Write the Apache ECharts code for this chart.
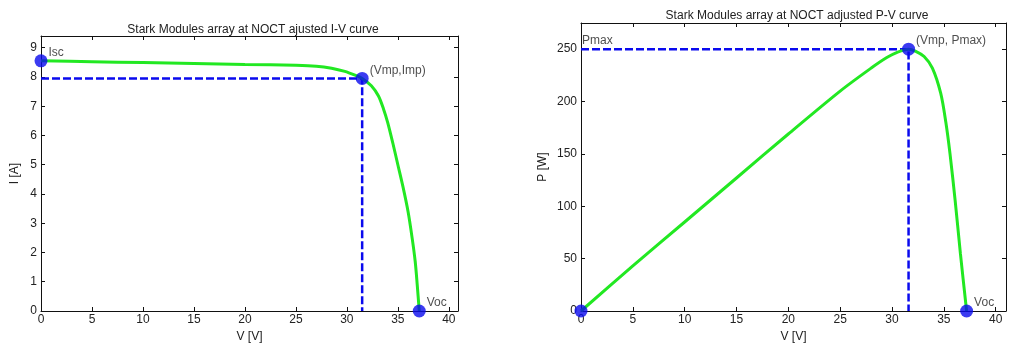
<!DOCTYPE html>
<html>
<head>
<meta charset="utf-8">
<script src="https://cdn.jsdelivr.net/npm/echarts@6/dist/echarts.min.js"></script>
<style>
  html, body { margin: 0; padding: 0; background: #fff; }
  #container { width: 1013px; height: 350px; }
</style>
</head>
<body>
<div id="container"></div>
<script>
// I-V curve
const ivVolt = [0, 5, 10, 15, 20, 25, 27, 28.5, 29.8, 30.8, 31.5, 32.4, 33.1, 33.6, 34.0, 34.5, 35.0, 35.5, 36.0, 36.4, 36.7, 36.9, 37.1]
const ivCurr = [8.55, 8.52, 8.49, 8.46, 8.43, 8.40, 8.37, 8.30, 8.19, 8.06, 7.95, 7.70, 7.35, 6.90, 6.45, 5.75, 5.0, 4.25, 3.4, 2.5, 1.7, 0.9, 0]

// P-V curve
const pvVolt = [0, 5, 10, 15, 20, 25, 28, 29.5, 30.5, 31.6, 32.3, 33.1, 33.9, 34.7, 35.2, 35.6, 36.1, 36.6, 37.2]
const pvPow = [0, 43, 85, 127, 169, 210, 232, 242, 247, 250, 248, 243, 232, 208, 180, 150, 105, 55, 0]

// key points
const ivPoints = [[0, 8.55], [31.5, 7.95], [37.1, 0]]
const ivPointNames = ['Isc', '(Vmp,Imp)', 'Voc']
const pvPoints = [[0, 0], [31.6, 250], [37.2, 0]]
const pvPointNames = ['', '(Vmp, Pmax)', 'Voc']

const titles = ['Stark Modules array at NOCT ajusted I-V curve', 'Stark Modules array at NOCT adjusted P-V curve']

const green = '#22e822'
const blue = '#0a0aee'
const font = 'Liberation Sans'
const textColor = '#222'
const fs = 12

const dom = document.getElementById('container')
const myChart = echarts.init(dom)

function zip(a, b) {
    return a.map((v, i) => [v, b[i]])
}

function mainX(gridIndex, max) {
    return {
        type: 'value', gridIndex: gridIndex, position: 'bottom',
        min: 0, max: max, interval: 5,
        name: 'V [V]', nameLocation: 'middle', nameGap: 13,
        nameTextStyle: { color: textColor, fontFamily: font, fontSize: fs },
        axisLine: { show: true, onZero: false, lineStyle: { color: '#111', width: 1 } },
        axisTick: { show: true, inside: true, length: 4, lineStyle: { color: '#111' } },
        axisLabel: { color: textColor, fontFamily: font, fontSize: fs, margin: 3, showMaxLabel: false },
        splitLine: { show: false }
    }
}
function boxX(gridIndex, max) {
    return {
        type: 'value', gridIndex: gridIndex, position: 'top',
        min: 0, max: max, interval: 5,
        axisLine: { show: true, onZero: false, lineStyle: { color: '#111', width: 1 } },
        axisTick: { show: true, inside: true, length: 4, lineStyle: { color: '#111' } },
        axisLabel: { show: false },
        splitLine: { show: false }
    }
}
function mainY(gridIndex, max, interval, name, gap) {
    return {
        type: 'value', gridIndex: gridIndex, position: 'left',
        min: 0, max: max, interval: interval,
        name: name, nameLocation: 'middle', nameGap: gap,
        nameTextStyle: { color: textColor, fontFamily: font, fontSize: fs },
        axisLine: { show: true, onZero: false, lineStyle: { color: '#111', width: 1 } },
        axisTick: { show: true, inside: true, length: 4, lineStyle: { color: '#111' } },
        axisLabel: { color: textColor, fontFamily: font, fontSize: fs, margin: 4, showMaxLabel: false },
        splitLine: { show: false }
    }
}
function boxY(gridIndex, max, interval) {
    return {
        type: 'value', gridIndex: gridIndex, position: 'right',
        min: 0, max: max, interval: interval,
        axisLine: { show: true, onZero: false, lineStyle: { color: '#111', width: 1 } },
        axisTick: { show: true, inside: true, length: 4, lineStyle: { color: '#111' } },
        axisLabel: { show: false },
        splitLine: { show: false }
    }
}

function pointSeries(xi, yi, pts, names) {
    return {
        type: 'scatter', xAxisIndex: xi, yAxisIndex: yi,
        symbolSize: 13, z: 5,
        itemStyle: { color: blue },
        data: pts.map((p, i) => ({ value: p, name: names[i] })),
        label: {
            show: true, position: 'right', distance: 1,
            formatter: (p) => p.name,
            color: textColor, fontFamily: font, fontSize: fs,
            offset: [0, -8]
        },
        silent: true
    }
}

const option = {
    backgroundColor: '#fff',
    animation: false,
    title: [
        { text: titles[0], left: 248, top: 19, textAlign: 'center',
          textStyle: { color: textColor, fontFamily: font, fontSize: fs, fontWeight: 'normal' } },
        { text: titles[1], left: 792, top: 5, textAlign: 'center',
          textStyle: { color: textColor, fontFamily: font, fontSize: fs, fontWeight: 'normal' } }
    ],
    grid: [
        { left: 41, top: 36, width: 417, height: 275 },
        { left: 581, top: 23, width: 425, height: 288 }
    ],
    xAxis: [mainX(0, 40.9), boxX(0, 40.9), mainX(1, 41), boxX(1, 41)],
    yAxis: [mainY(0, 9.4, 1, 'I [A]', 20), boxY(0, 9.4, 1), mainY(1, 275, 50, 'P [W]', 32), boxY(1, 275, 50)],
    series: [
        {
            type: 'line', xAxisIndex: 0, yAxisIndex: 0,
            data: [[0, ivPoints[1][1]], ivPoints[1], [ivPoints[1][0], 0]],
            symbol: 'none',
            lineStyle: { color: blue, width: 2.5, type: [8, 3] },
            silent: true
        },
        {
            type: 'line', xAxisIndex: 0, yAxisIndex: 0,
            data: zip(ivVolt, ivCurr),
            symbol: 'none', smooth: 0.3,
            lineStyle: { color: green, width: 3 },
            silent: true
        },
        pointSeries(0, 0, ivPoints, ivPointNames),
        {
            type: 'line', xAxisIndex: 2, yAxisIndex: 2,
            data: [[0, pvPoints[1][1]], pvPoints[1], [pvPoints[1][0], 0]],
            symbol: 'none',
            lineStyle: { color: blue, width: 2.5, type: [8, 3] },
            silent: true
        },
        {
            type: 'line', xAxisIndex: 2, yAxisIndex: 2,
            data: zip(pvVolt, pvPow),
            symbol: 'none', smooth: 0.3,
            lineStyle: { color: green, width: 3 },
            silent: true
        },
        pointSeries(2, 2, pvPoints, pvPointNames),
        {
            type: 'scatter', xAxisIndex: 2, yAxisIndex: 2,
            data: [[0, 250]], symbolSize: 0,
            label: { show: true, position: 'right', formatter: 'Pmax', distance: 1, offset: [0, -8],
                     color: textColor, fontFamily: font, fontSize: fs },
            silent: true
        }
    ]
}

myChart.setOption(option)
</script>
</body>
</html>
